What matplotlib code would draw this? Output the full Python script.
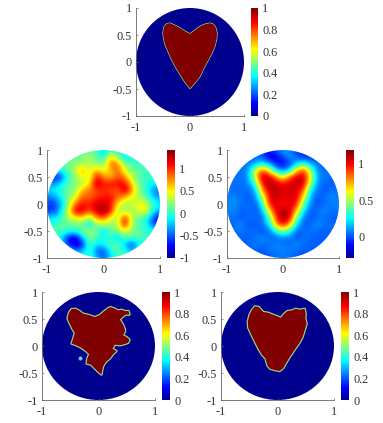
import matplotlib
matplotlib.use('Agg')
import matplotlib.pyplot as plt
from matplotlib.patches import Circle
from matplotlib.cm import ScalarMappable
from matplotlib.colors import Normalize, LinearSegmentedColormap
import numpy as np

plt.rcParams['font.family'] = ['Liberation Serif', 'DejaVu Serif']

axis_ticks = [-1, -0.5, 0, 0.5, 1]
axis_labels = ['-1', '-0.5', '0', '0.5', '1']
x_ticks = [-1, 0, 1]
x_labels = ['-1', '0', '1']

cbar_ticks_01 = [0, 0.2, 0.4, 0.6, 0.8, 1]
cbar_labels_01 = ['0', '0.2', '0.4', '0.6', '0.8', '1']
cbar_ticks_noisy = [-1, -0.5, 0, 0.5, 1]
cbar_labels_noisy = ['-1', '-0.5', '0', '0.5', '1']
cbar_ticks_smooth = [0, 0.5, 1]
cbar_labels_smooth = ['0', '0.5', '1']

true_x = [0, .09, .185, .28, .37, .43, .475, .5, .495, .46, .41, .34, .26, .185, .09, 0, -.09, -.185, -.265, -.34,
          -.40, -.46, -.49, -.5, -.48, -.43, -.37, -.28, -.185, -.09]
true_y = [.52, .59, .66, .70, .72, .70, .64, .54, .43, .29, .17, .04, -.11, -.27, -.39, -.49, -.38, -.23, -.1, .04,
          .18, .32, .44, .54, .65, .71, .72, .68, .63, .57]

left_x = [-.065, .012, .083, .154, .213, .29, .349, .408, .467, .533, .55, .485, .426, .379, .42, .456, .473, .438,
          .497, .55, .527, .45, .379, .29, .249, .32, .26, .201, .13, .083, .065, .053, -.006, -.083, -.136, -.213,
          -.195, -.166, -.225, -.302, -.391, -.479, -.45, -.42, -.467, -.509, -.55, -.527, -.479, -.402, -.331,
          -.272, -.183]
left_y = [.537, .568, .63, .691, .722, .691, .66, .673, .648, .648, .58, .58, .537, .488, .426, .352, .278, .198,
          .167, .117, .056, .031, .012, .025, -.049, -.093, -.154, -.235, -.296, -.377, -.463, -.531, -.481, -.401,
          -.346, -.327, -.216, -.154, -.093, -.037, .012, .043, .136, .241, .321, .414, .506, .611, .685, .691,
          .648, .599, .58]
island_x = [-.33]
island_y = [-.23]

right_x = [.059, .118, .176, .259, .318, .394, .482, .5, .494, .518, .482, .447, .382, .318, .259, .2, .147, .106,
           .041, -.035, -.135, -.182, -.212, -.282, -.341, -.4, -.459, -.518, -.529, -.5, -.459, -.4, -.329, -.253,
           -.165, -.047]
right_y = [.525, .599, .648, .66, .691, .673, .691, .599, .506, .414, .29, .167, .043, -.049, -.142, -.235, -.327,
           -.407, -.463, -.451, -.42, -.358, -.235, -.154, -.049, .074, .198, .333, .444, .568, .66, .735, .722,
           .63, .617, .568]

# rows go from y=1 down to y=-1 in steps of .125, columns from x=-1 to x=1
noisy = [
    [0, 0, 0, 0, 0, 0, .1, .1, -.3, .1, -.1, 0, 0, 0, 0, 0, 0],
    [0, 0, 0, 0, .1, .2, .3, .1, -.1, .5, .2, -.3, 0, 0, 0, 0, 0],
    [0, 0, 0, .2, .2, .2, .3, .2, .1, .9, .8, .2, 0, 0, 0, 0, 0],
    [0, -.2, 0, .1, .3, .8, .3, .7, .4, .6, .9, .4, .2, .1, 0, 0, 0],
    [0, -.8, -.6, 0, .2, .5, .3, 1.1, .8, .6, .9, .8, .3, .1, 0, 0, 0],
    [-.3, -.4, -.1, .1, .2, .3, .5, 1.3, 1.0, 1.1, 1.1, 1.1, .6, .1, 0, -.1, -.2],
    [-.2, -.1, 0, .1, .2, .7, .8, .9, 1.0, .9, .8, 1.3, .8, .2, 0, -.4, -.5],
    [-.4, -.4, -.1, .2, .4, .9, .8, 1.0, 1.0, 1.1, .9, .6, .4, .3, .1, -.2, -.4],
    [-.6, -.6, -.3, .2, .8, 1.1, 1.0, 1.2, 1.2, 1.1, .5, .3, .3, .5, .4, 0, -.1],
    [-.6, -.6, -.2, .4, 1.2, 1.2, .9, 1.2, 1.4, 1.1, .3, .2, .3, .4, .6, -.1, -.3],
    [-.2, -.2, 0, .3, .5, .6, .2, .8, .9, .5, .2, 1.1, .3, .1, 0, -.5, -.8],
    [0, 0, .1, .1, .1, .1, -.2, .2, .3, .2, .3, 1.2, .3, 0, 0, -.6, -.6],
    [0, .1, .1, 0, 0, .2, .3, .1, -.2, .1, .2, .4, .2, .1, 0, 0, 0],
    [0, 0, -.2, -.7, -.9, -.3, .2, .1, -.1, 0, -.3, .1, .1, .1, 0, 0, 0],
    [0, 0, 0, -.7, -.9, -.7, .1, -.2, -.1, .1, .1, -.2, -.7, -.1, 0, 0, 0],
    [0, 0, 0, 0, -.4, -.3, .1, -.5, -.6, -.1, .1, 0, -.3, 0, 0, 0, 0],
    [0, 0, 0, 0, 0, 0, 0, -.2, -.5, -.2, 0, 0, 0, 0, 0, 0, 0],
]
smooth = [
    [0, 0, 0, 0, 0, 0, -.1, 0, .15, .05, -.05, 0, 0, 0, 0, 0, 0],
    [0, 0, 0, 0, .05, 0, -.15, -.15, 0, .15, 0, -.1, -.05, 0, 0, 0, 0],
    [0, 0, .05, .05, .1, .25, .1, -.1, -.15, -.05, .2, .3, .1, .05, .05, 0, 0],
    [0, .05, .05, .1, .55, .9, .65, .2, .05, .2, .7, .95, .45, .05, .05, .05, 0],
    [.05, .05, .05, .1, .6, 1.1, 1.05, .85, .55, .9, 1.05, 1.05, .6, .1, .05, .05, 0],
    [.05, .05, .05, .05, .3, .95, 1.15, 1.05, 1.0, 1.05, 1.1, 1.05, .45, .05, .05, 0, .05],
    [.1, 0, .05, .05, .1, .75, 1.05, 1.1, 1.05, 1.05, 1.05, .85, .2, .05, 0, .05, .05],
    [.05, .1, .05, 0, .05, .45, 1.0, 1.1, 1.0, 1.05, 1.05, .6, .1, 0, .05, .1, .05],
    [.1, .1, .05, .05, 0, .25, .95, 1.05, .95, 1.05, .95, .4, .05, 0, .05, .05, .1],
    [.05, .1, 0, .05, 0, .1, .65, 1.05, 1.1, 1.05, .7, .2, 0, .05, .1, .05, .05],
    [.05, .05, 0, .05, .05, 0, .35, .9, 1.18, 1.05, .4, .05, 0, .05, .05, 0, .05],
    [0, .05, .1, 0, 0, .05, .2, .8, 1.0, .75, .2, 0, .05, .1, .05, .05, 0],
    [0, .05, .05, .05, .05, 0, 0, .3, .5, .3, 0, .05, .05, .05, 0, .05, 0],
    [0, 0, .05, 0, .05, .1, .05, 0, .05, .05, 0, .05, .05, 0, .05, 0, 0],
    [0, 0, 0, .05, .05, .05, .05, .1, .05, .05, .1, .05, 0, .05, 0, 0, 0],
    [0, 0, 0, 0, .05, 0, .05, .05, .1, .05, .05, 0, .05, 0, 0, 0, 0],
    [0, 0, 0, 0, 0, 0, 0, .05, .05, .05, 0, 0, 0, 0, 0, 0, 0],
]

W, H = 383, 423
GRAY = '#666666'
FS = 8.8
fig = plt.figure(figsize=(W / 100, H / 100), dpi=100)

# same stops as the MATLAB jet map
jet = LinearSegmentedColormap.from_list('mjet', [(0, '#00008f'), (.117, '#0000ff'), (.367, '#00ffff'),
                                                  (.617, '#ffff00'), (.867, '#ff0000'), (1, '#800000')])


def px_axes(l, t, r, b):
    return fig.add_axes([l / W, 1 - b / H, (r - l) / W, (b - t) / H])


def style(ax):
    ax.set_xlim(-1, 1)
    ax.set_ylim(-1, 1)
    ax.spines['top'].set_visible(False)
    ax.spines['right'].set_visible(False)
    ax.spines['left'].set_color(GRAY)
    ax.spines['bottom'].set_color(GRAY)
    ax.spines['left'].set_linewidth(0.6)
    ax.spines['bottom'].set_linewidth(0.6)
    ax.set_xticks(x_ticks, x_labels)
    ax.set_yticks(axis_ticks, axis_labels)
    ax.tick_params(direction='in', length=1.5, width=0.5, color=GRAY, labelcolor='#333333',
                   labelsize=FS, pad=3)
    ax.tick_params(axis='x', pad=4)


def colorbar(norm, l, t, r, b, ticks, labels):
    cax = px_axes(l, t, r, b)
    cb = fig.colorbar(ScalarMappable(norm=norm, cmap=jet), cax=cax)
    cb.set_ticks(ticks, labels=labels)
    cb.outline.set_visible(False)
    cb.ax.tick_params(length=0, labelsize=FS, labelcolor='#333333', pad=3)


def binary_panel(l, t, r, b, outlines, cl, cr, edge=1.7):
    ax = px_axes(l, t, r, b)
    style(ax)
    ax.add_patch(Circle((0, 0), 1, color=jet(0.0), lw=0))
    for xs, ys in outlines:
        if len(xs) == 1:
            ax.plot(xs, ys, 'o', ms=3, color='#30c0e8', mew=0)
            ax.plot(xs, ys, 'o', ms=1.6, color='#e0d040', mew=0)
            continue
        ax.fill(xs, ys, facecolor='none', edgecolor='#20c0e8', lw=edge, joinstyle='round')
        ax.fill(xs, ys, facecolor='none', edgecolor='#e8e040', lw=edge * .6, joinstyle='round')
        ax.fill(xs, ys, facecolor=jet(1.0), edgecolor='none')
    colorbar(Normalize(0, 1), cl, t, cr, b, cbar_ticks_01, cbar_labels_01)


def field_panel(l, t, r, b, field, vmin, vmax, cl, cr, ticks, labels):
    ax = px_axes(l, t, r, b)
    style(ax)
    # half cell padding so the grid nodes sit on their x,y positions
    step = 2 / (len(field) - 1)
    ext = [-1 - step / 2, 1 + step / 2, -1 - step / 2, 1 + step / 2]
    im = ax.imshow(field, extent=ext, cmap=jet, vmin=vmin, vmax=vmax, interpolation='bicubic',
                   aspect='auto', origin='upper')
    im.set_clip_path(Circle((0, 0), 1, transform=ax.transData))
    ax.set_xlim(-1, 1)
    ax.set_ylim(-1, 1)
    colorbar(Normalize(vmin, vmax), cl, t, cr, b, ticks, labels)


binary_panel(136, 8, 244, 116, [(true_x, true_y)], 251, 258, edge=0.9)
field_panel(47, 150, 160, 258, noisy, -1, 1.4, 167, 175, cbar_ticks_noisy, cbar_labels_noisy)
field_panel(227, 150, 339, 258, smooth, -.29, 1.19, 346, 354, cbar_ticks_smooth, cbar_labels_smooth)
binary_panel(42, 292, 155, 400, [(left_x, left_y), (island_x, island_y)], 162, 170)
binary_panel(221, 292, 334, 400, [(right_x, right_y)], 341, 349)

fig.savefig('out.png', dpi=100)
